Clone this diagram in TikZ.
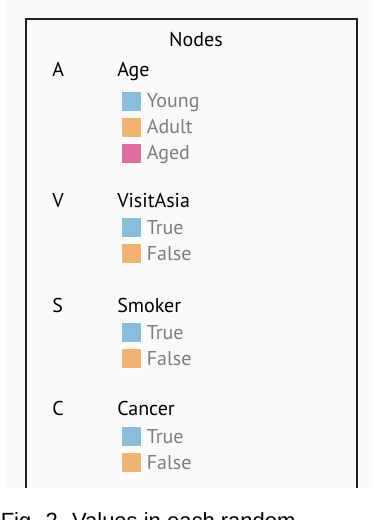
\documentclass[tikz,border=0pt]{standalone}
\usepackage{fontspec}
\setmainfont{PT Sans}
\newfontfamily\capfont{Liberation Sans}
\usetikzlibrary{positioning}
\definecolor{swblue}{RGB}{136,189,221}
\definecolor{sworange}{RGB}{243,178,112}
\definecolor{swpink}{RGB}{228,108,160}
\definecolor{panelbg}{RGB}{250,250,250}
\definecolor{framecol}{RGB}{34,34,34}
\definecolor{valgray}{RGB}{125,125,125}
\tikzset{
  head/.style   = {anchor=base west, inner sep=0pt, font=\fontsize{15}{18}\selectfont},
  title/.style  = {anchor=base, inner sep=0pt, font=\fontsize{15}{18}\selectfont},
  swatch/.style = {minimum size=15pt, inner sep=0pt, draw=white, line width=0.4pt},
  val/.style    = {anchor=west, inner sep=0pt, text height=10.5pt, text depth=0pt,
                   text=valgray, font=\fontsize{15}{18}\selectfont},
  caption/.style = {anchor=base west, inner sep=0pt, font=\capfont\fontsize{16.5}{20}\selectfont},
}

\begin{document}
\begin{tikzpicture}[x=0.75pt, y=-0.75pt]
  \useasboundingbox (0,0) rectangle (374,520);
  \fill[panelbg] (5,0) rectangle (372,488);
  \draw[framecol, line width=1.5pt] (26,488) -- (26,19) -- (357,19) -- (357,488);
  \node[title] (nodes) at (196,47) {Nodes};
  % Age
  \node[head] (lA) at (52,77) {A};
  \node[head] (hA) at (117,77) {Age};
  \node[swatch, fill=swblue]   (sA1) at (131,101) {};
  \node[swatch, fill=sworange] (sA2) at (131,127) {};
  \node[swatch, fill=swpink]   (sA3) at (131,153) {};
  \node[val, right=4pt of sA1] (vA1) {Young};
  \node[val, right=4pt of sA2] (vA2) {Adult};
  \node[val, right=4pt of sA3] (vA3) {Aged};
  % VisitAsia
  \node[head] (lV) at (52,207) {V};
  \node[head] (hV) at (117,207) {VisitAsia};
  \node[swatch, fill=swblue]   (sV1) at (131,227.5) {};
  \node[swatch, fill=sworange] (sV2) at (131,253.5) {};
  \node[val, right=4pt of sV1] (vV1) {True};
  \node[val, right=4pt of sV2] (vV2) {False};
  % Smoker
  \node[head] (lS) at (52,312) {S};
  \node[head] (hS) at (117,312) {Smoker};
  \node[swatch, fill=swblue]   (sS1) at (131,332) {};
  \node[swatch, fill=sworange] (sS2) at (131,358) {};
  \node[val, right=4pt of sS1] (vS1) {True};
  \node[val, right=4pt of sS2] (vS2) {False};
  % Cancer
  \node[head] (lC) at (52,415) {C};
  \node[head] (hC) at (117,415) {Cancer};
  \node[swatch, fill=swblue]   (sC1) at (131,436.5) {};
  \node[swatch, fill=sworange] (sC2) at (131,462.5) {};
  \node[val, right=4pt of sC1] (vC1) {True};
  \node[val, right=4pt of sC2] (vC2) {False};
  % caption, cut by the page edge as in the source
  \node[caption] (cap) at (0.5,528) {Fig. 2. Values in each random};
\end{tikzpicture}
\end{document}
